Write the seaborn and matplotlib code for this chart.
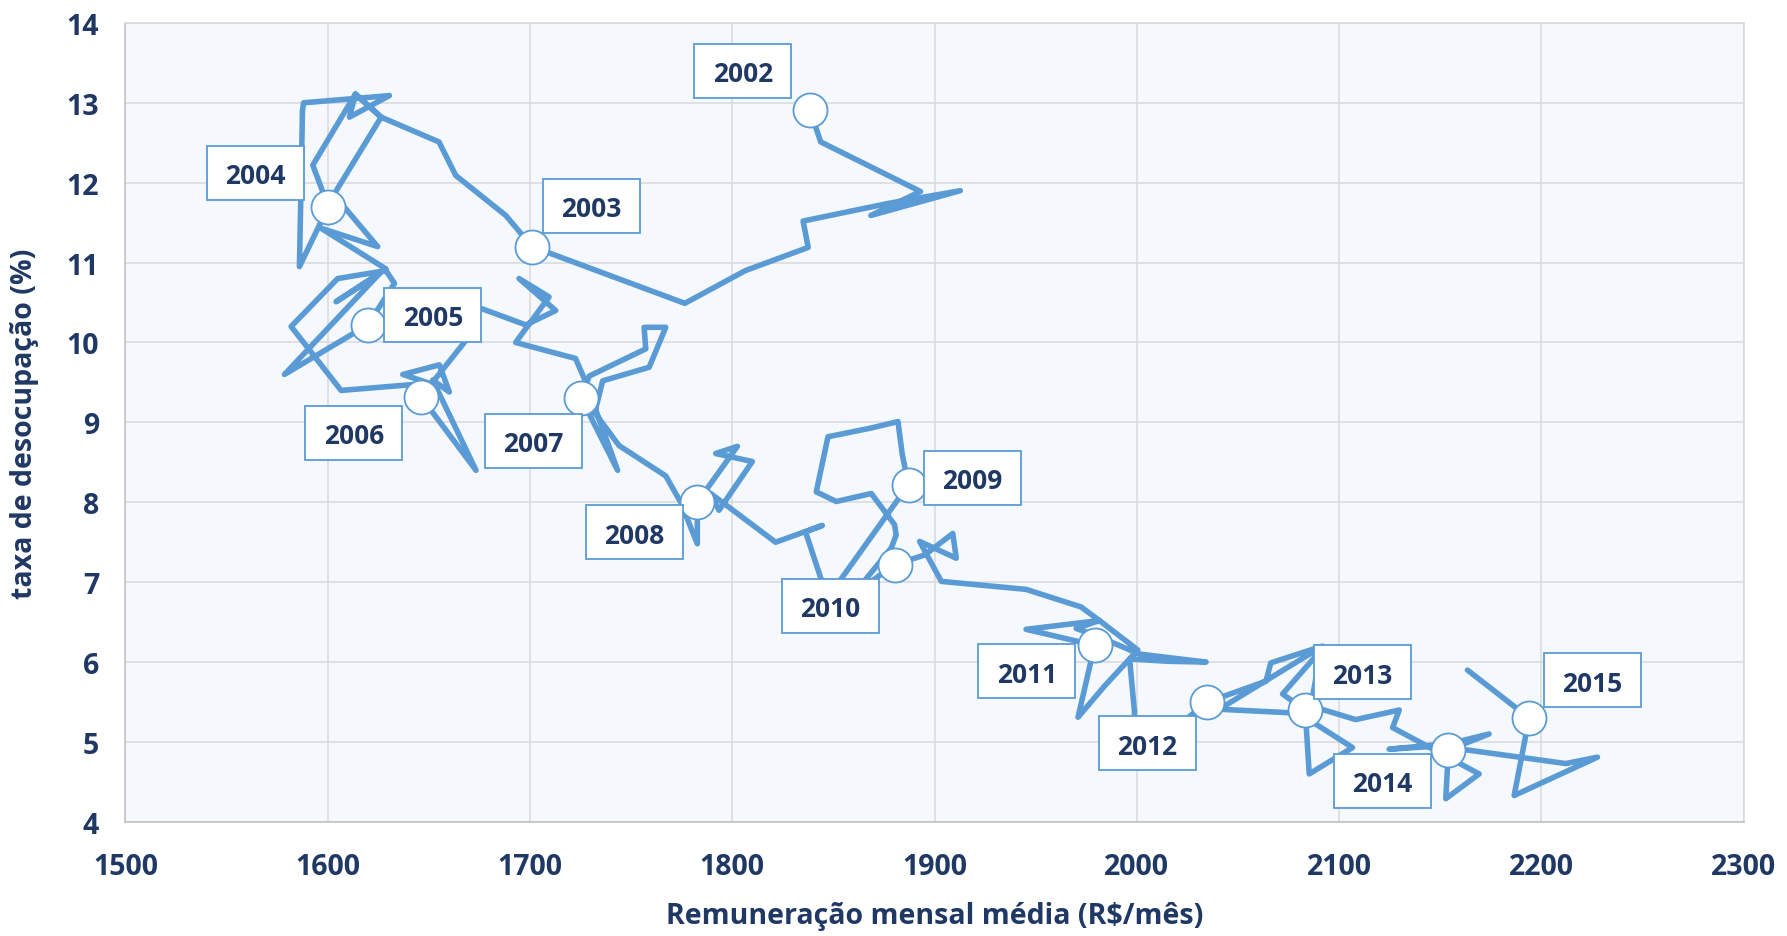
import matplotlib
matplotlib.use('Agg')
import matplotlib.pyplot as plt
import matplotlib.patches as patches
from matplotlib.transforms import IdentityTransform
import seaborn as sns
import pandas as pd

# Trajetoria mensal (remuneracao media R$/mes, taxa de desocupacao %)
renda = [
    1838.4, 1843.7, 1893.0, 1868.5, 1912.7, 1877.0, 1835.0, 1837.5, 1806.5, 1776.5,                  # 2002
    1701.0, 1688.0, 1663.3, 1655.0, 1626.4, 1613.7, 1610.7, 1630.5, 1588.1, 1587.5, 1587.0, 1586.0,  # 2003
    1600.3, 1592.6, 1613.7, 1626.4, 1603.0, 1624.7, 1596.7, 1628.8, 1604.1, 1625.5, 1578.6,          # 2004
    1619.8, 1633.0, 1628.8, 1604.9, 1581.9, 1606.6, 1650.2, 1637.1, 1655.2, 1660.1, 1651.9, 1673.3,  # 2005
    1646.1, 1670.0, 1662.0, 1676.5, 1697.9, 1712.7, 1694.6, 1709.4, 1692.9, 1722.5, 1727.3, 1743.3,  # 2006
    1725.2, 1729.3, 1757.2, 1756.4, 1767.1, 1758.9, 1735.9, 1732.0, 1744.0, 1767.1, 1774.5, 1782.7,  # 2007
    1782.7, 1802.5, 1791.8, 1809.9, 1793.4, 1789.3, 1821.4, 1844.5, 1836.2, 1847.0,                  # 2008
    1887.1, 1884.0, 1881.9, 1868.7, 1847.3, 1841.5, 1851.4, 1868.7, 1880.2, 1881.0, 1878.6, 1860.0,  # 2009
    1880.2, 1895.1, 1909.0, 1910.7, 1892.6, 1903.3, 1945.2, 1972.4, 1981.5, 2000.5, 1996.4, 1984.0, 1970.9,  # 2010
    1979.1, 1945.2, 1981.5, 1970.0, 1980.0, 2001.3, 2034.2, 2015.0, 1996.4, 1998.8, 1998.0,          # 2011
    2034.9, 2063.8, 2066.2, 2091.8, 2040.7, 2080.0, 2106.6, 2085.2,                                  # 2012
    2083.2, 2072.0, 2091.0, 2086.0, 2108.2, 2129.7, 2126.4, 2169.2, 2152.7,                          # 2013
    2154.0, 2174.1, 2150.0, 2124.7, 2146.0, 2212.0, 2227.7, 2186.5,                                  # 2014
    2193.9, 2163.4,                                                                                  # 2015
]
taxa = [
    12.91, 12.51, 11.89, 11.59, 11.90, 11.74, 11.52, 11.19, 10.90, 10.49,
    11.20, 11.59, 12.09, 12.51, 12.82, 13.11, 12.82, 13.09, 13.00, 12.90, 12.20, 10.95,
    11.70, 12.22, 13.11, 12.82, 11.85, 11.20, 11.43, 10.92, 10.51, 10.86, 9.60,
    10.22, 10.74, 10.90, 10.80, 10.20, 9.40, 9.49, 9.60, 9.72, 9.38, 9.53, 8.40,
    9.32, 10.08, 10.45, 10.42, 10.22, 10.40, 10.80, 10.57, 10.00, 9.80, 9.52, 8.40,
    9.31, 9.58, 9.92, 10.19, 10.19, 9.69, 9.52, 9.12, 8.71, 8.33, 8.00, 7.48,
    8.00, 8.70, 8.61, 8.51, 7.90, 8.11, 7.50, 7.71, 7.63, 6.80,
    8.22, 8.60, 9.01, 8.93, 8.82, 8.13, 8.01, 8.11, 7.72, 7.59, 7.43, 6.85,
    7.22, 7.34, 7.61, 7.30, 7.51, 7.01, 6.91, 6.69, 6.52, 6.15, 6.04, 5.70, 5.31,
    6.21, 6.41, 6.52, 6.42, 6.33, 6.10, 6.00, 6.01, 6.04, 5.38, 4.75,
    5.50, 5.76, 5.99, 6.20, 5.41, 5.36, 4.93, 4.60,
    5.40, 5.60, 6.15, 5.45, 5.28, 5.40, 5.18, 4.60, 4.29,
    4.90, 5.10, 4.95, 4.91, 4.96, 4.73, 4.81, 4.33,
    5.30, 5.90,
]
ano = ([2002] * 10 + [2003] * 12 + [2004] * 11 + [2005] * 12 + [2006] * 12 + [2007] * 12
       + [2008] * 10 + [2009] * 12 + [2010] * 13 + [2011] * 11 + [2012] * 8 + [2013] * 9
       + [2014] * 8 + [2015] * 2)

# deslocamento das caixas de rotulo em pixels (dx, dy para baixo)
rot_dx = [-67, 59, -73, 65, -67, -48, -63, 64, -64, -68, -60, 57, -66, 63]
rot_dy = [-39, -41, -34, -10, 36, 43, 30, -7, 41, 26, 41, -38, 31, -38]

azul = '#5B9BD5'
marinho = '#1F3864'

df = pd.DataFrame({'renda': renda, 'taxa': taxa, 'ano': ano})
inicio_ano = df.groupby('ano').head(1).reset_index(drop=True)

sns.set_theme(style='white')
plt.rcParams['font.family'] = ['Open Sans', 'DejaVu Sans']

fig = plt.figure(figsize=(17.87, 9.37), dpi=100)
ax = fig.add_axes([0.0702, 0.1218, 0.9056, 0.8527])
ax.set_facecolor('#F5F9FD')

sns.lineplot(data=df, x='renda', y='taxa', sort=False, estimator=None, color=azul,
             lw=4.0, ax=ax, zorder=3, solid_joinstyle='round', solid_capstyle='round')
sns.scatterplot(data=inicio_ano, x='renda', y='taxa', s=600, color='white',
                edgecolor=azul, linewidth=1.3, zorder=4, ax=ax)

ax.set_xlim(1500, 2300)
ax.set_ylim(4, 14)
ax.set_xticks(range(1500, 2301, 100))
ax.set_yticks(range(4, 15))
ax.grid(True, color='#D9D9D9', lw=1.1)
ax.set_axisbelow(True)
for s in ax.spines.values():
    s.set_color('#D9D9D9')
    s.set_linewidth(1.1)
ax.spines['left'].set_color('#BFBFBF')
ax.spines['bottom'].set_color('#BFBFBF')

ax.tick_params(axis='both', length=0, labelsize=20.5, labelcolor=marinho)
ax.tick_params(axis='x', pad=22)
ax.tick_params(axis='y', pad=19)
for t in ax.get_xticklabels() + ax.get_yticklabels():
    t.set_fontweight('bold')

ax.set_xlabel('Remuneração mensal média (R$/mês)', fontsize=20.5, fontweight='bold', color=marinho)
ax.set_ylabel('taxa de desocupação (%)', fontsize=20.5, fontweight='bold', color=marinho)
ax.xaxis.label.set_va('center')
ax.xaxis.set_label_coords(0.5, -0.117)
ax.yaxis.label.set_va('center')
ax.yaxis.set_label_coords(-0.0625, 0.5)

# caixas com o ano
for i, row in inicio_ano.iterrows():
    px, py = ax.transData.transform((row['renda'], row['taxa']))
    cx = px + rot_dx[i]
    cy = py - rot_dy[i]
    caixa = patches.Rectangle((cx - 48.5, cy - 27), 97, 54, transform=IdentityTransform(),
                              facecolor='white', edgecolor=azul, lw=1.3, zorder=5, clip_on=False)
    ax.add_patch(caixa)
    ax.text(cx, cy - 3, str(int(row['ano'])), transform=IdentityTransform(), ha='center',
            va='center', fontsize=19, fontweight='bold', color=marinho, zorder=6)

fig.savefig('out.png', dpi=100)
